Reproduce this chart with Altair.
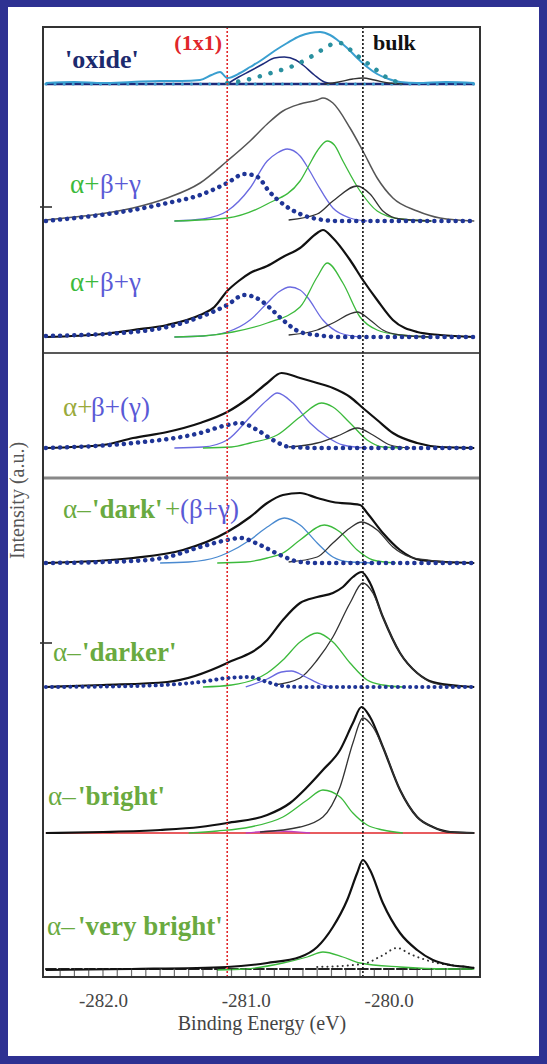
import altair as alt
import pandas as pd

# ---------------- data (energies in eV, heights in a.u. above each panel baseline) -------------
X_DOMAIN = [-282.42, -279.36]
Y_DOMAIN = [0, 950]
TICK_VALUES = [-282.0, -281.0, -280.0]
REF_LINES = [-281.13]          # (1x1)
BULK_LINES = [-280.18]         # bulk
OFFSETS = [893, 756, 640, 529, 414, 290, 144, 7]   # panel baselines
SEPARATORS_DARK = [624]
SEPARATORS_GRAY = [499]
LEFT_MARKS = [770, 334]
BOTTOM_TICKS = [-282.3, -282.2, -282.1, -282.0, -281.9, -281.8, -281.7, -281.6, -281.5, -281.4,
                -281.3, -281.2, -281.1, -281.0, -280.9, -280.8, -280.7, -280.6, -280.5, -280.4,
                -280.3, -280.2, -280.1, -280.0, -279.9, -279.8, -279.7, -279.6, -279.5]

FULL_BASE = [(-282.40, 0), (-279.40, 0)]

# panel 1 : 'oxide'
P1_ENV = [(-282.40, 1), (-282.20, 2), (-282.00, 1), (-281.80, 2), (-281.60, 3), (-281.45, 3),
          (-281.32, 4), (-281.24, 9), (-281.18, 12), (-281.13, 6), (-281.04, 11), (-280.97, 17),
          (-280.90, 23), (-280.80, 33), (-280.71, 41), (-280.62, 48), (-280.55, 51), (-280.48, 52),
          (-280.41, 49), (-280.35, 43), (-280.29, 36), (-280.22, 26), (-280.15, 17), (-280.08, 10),
          (-280.00, 5), (-279.92, 2), (-279.80, 1), (-279.60, 2), (-279.40, 1)]
P1_DOTS = [(-281.13, 1), (-281.03, 3), (-280.92, 7), (-280.80, 12), (-280.67, 18), (-280.57, 25),
           (-280.48, 33), (-280.41, 39), (-280.34, 41), (-280.25, 32), (-280.18, 24), (-280.11, 17),
           (-280.06, 11), (-279.98, 4), (-279.90, 1)]
P1_NAVY = [(-281.13, 0), (-281.05, 7), (-280.97, 13), (-280.88, 20), (-280.80, 26), (-280.73, 27),
           (-280.65, 24), (-280.60, 19), (-280.52, 9), (-280.45, 2), (-280.38, 0)]
P1_BLACK = [(-280.45, 0), (-280.35, 2), (-280.25, 5), (-280.18, 6), (-280.10, 4), (-280.00, 1),
            (-279.90, 0)]

# panel 2 : α+β+γ
P2_ENV = [(-282.40, 1), (-282.20, 4), (-282.02, 7), (-281.79, 13), (-281.55, 23), (-281.32, 38),
          (-281.13, 60), (-280.97, 80), (-280.85, 97), (-280.74, 110), (-280.62, 117), (-280.50, 121),
          (-280.46, 123), (-280.39, 118), (-280.27, 93), (-280.18, 70), (-280.08, 43), (-279.97, 23),
          (-279.80, 10), (-279.64, 3), (-279.40, 0)]
P2_BETA = [(-281.50, 0), (-281.30, 2), (-281.13, 10), (-280.97, 33), (-280.85, 60), (-280.78, 68),
           (-280.71, 72), (-280.62, 65), (-280.56, 52), (-280.50, 37), (-280.39, 13), (-280.27, 3),
           (-280.15, 0)]
P2_ALPHA = [(-281.50, 0), (-281.13, 3), (-280.85, 17), (-280.62, 40), (-280.56, 55), (-280.50, 70),
            (-280.43, 80), (-280.38, 76), (-280.32, 60), (-280.20, 30), (-280.08, 10), (-279.92, 2),
            (-279.70, 0)]
P2_GAMMA = [(-280.70, 1), (-280.50, 7), (-280.39, 20), (-280.22, 35), (-280.13, 27), (-280.04, 10),
            (-279.92, 2), (-279.70, 0)]
P2_DOTS = [(-282.40, 0), (-282.02, 6), (-281.79, 11), (-281.55, 18), (-281.32, 26), (-281.13, 38),
           (-281.01, 47), (-280.95, 46), (-280.90, 42), (-280.85, 32), (-280.74, 17), (-280.62, 7),
           (-280.50, 2), (-280.35, 0), (-279.40, 0)]

# panel 3 : α+β+γ
P3_ENV = [(-282.40, 0), (-282.00, 3), (-281.79, 7), (-281.55, 12), (-281.32, 22), (-281.22, 30),
          (-281.13, 46), (-281.05, 56), (-280.97, 64), (-280.85, 71), (-280.74, 80), (-280.62, 89),
          (-280.50, 104), (-280.46, 107), (-280.39, 99), (-280.27, 77), (-280.18, 57), (-280.08, 37),
          (-279.97, 17), (-279.80, 5), (-279.64, 2), (-279.40, 0)]
P3_BETA = [(-281.50, 0), (-281.30, 1), (-281.13, 5), (-280.97, 17), (-280.85, 34), (-280.77, 45),
           (-280.69, 50), (-280.62, 47), (-280.57, 40), (-280.46, 17), (-280.34, 4), (-280.20, 0)]
P3_ALPHA = [(-281.50, 0), (-281.30, 1), (-281.09, 5), (-280.85, 14), (-280.62, 30), (-280.50, 60),
            (-280.43, 74), (-280.32, 54), (-280.20, 20), (-280.08, 7), (-279.92, 2), (-279.70, 0)]
P3_GAMMA = [(-280.70, 2), (-280.50, 7), (-280.39, 14), (-280.22, 25), (-280.13, 17), (-280.04, 7),
            (-279.92, 2), (-279.70, 0)]
P3_DOTS = [(-282.40, 1), (-281.79, 5), (-281.55, 10), (-281.32, 20), (-281.13, 32), (-281.01, 42),
           (-280.90, 37), (-280.83, 29), (-280.74, 17), (-280.62, 5), (-280.50, 2), (-280.35, 0),
           (-279.40, 0)]

# panel 4 : α+β+(γ)
P4_ENV = [(-282.40, 0), (-282.00, 3), (-281.79, 10), (-281.55, 16), (-281.32, 25), (-281.13, 36),
          (-280.97, 51), (-280.85, 65), (-280.75, 75), (-280.62, 70), (-280.50, 65), (-280.39, 60),
          (-280.27, 51), (-280.18, 40), (-280.08, 28), (-279.97, 15), (-279.80, 5), (-279.64, 1),
          (-279.40, 0)]
P4_BETA = [(-281.50, 0), (-281.30, 1), (-281.13, 8), (-280.97, 31), (-280.85, 48), (-280.78, 55),
           (-280.67, 45), (-280.55, 25), (-280.43, 11), (-280.32, 3), (-280.15, 0)]
P4_ALPHA = [(-281.30, 0), (-281.10, 1), (-280.97, 5), (-280.78, 13), (-280.62, 31), (-280.47, 45),
            (-280.39, 41), (-280.27, 25), (-280.15, 8), (-280.04, 1), (-279.90, 0)]
P4_GAMMA = [(-280.70, 1), (-280.50, 5), (-280.34, 13), (-280.22, 20), (-280.11, 13), (-279.99, 3),
            (-279.85, 0)]
P4_DOTS = [(-282.40, 0), (-281.79, 5), (-281.32, 15), (-281.13, 23), (-281.04, 25), (-280.92, 18),
           (-280.81, 8), (-280.69, 1), (-280.50, 0), (-279.40, 0)]

# panel 5 : α-'dark'+(β+γ)
P5_ENV = [(-282.40, 0), (-281.79, 5), (-281.44, 13), (-281.13, 31), (-280.97, 46), (-280.85, 60),
          (-280.74, 68), (-280.62, 70), (-280.50, 65), (-280.39, 61), (-280.20, 58), (-280.15, 50),
          (-280.04, 30), (-279.92, 13), (-279.78, 3), (-279.60, 1), (-279.40, 0)]
P5_BETA = [(-281.60, 0), (-281.40, 1), (-281.20, 6), (-281.13, 10), (-280.97, 23), (-280.85, 36),
           (-280.73, 45), (-280.62, 38), (-280.50, 20), (-280.39, 6), (-280.27, 1), (-280.10, 0)]
P5_ALPHA = [(-281.20, 0), (-281.00, 1), (-280.85, 5), (-280.74, 10), (-280.62, 23), (-280.45, 38),
            (-280.34, 31), (-280.22, 13), (-280.11, 3), (-279.95, 0)]
P5_GAMMA = [(-280.70, 1), (-280.50, 6), (-280.39, 20), (-280.27, 35), (-280.19, 41), (-280.08, 33),
            (-279.97, 16), (-279.85, 6), (-279.73, 3), (-279.55, 0)]
P5_DOTS = [(-282.40, 0), (-281.79, 2), (-281.55, 6), (-281.32, 16), (-281.13, 23), (-281.04, 25),
           (-280.90, 18), (-280.76, 8), (-280.62, 1), (-280.50, 0), (-279.40, 0)]

# panel 6 : α-'darker'
P6_ENV = [(-282.40, 0), (-282.00, 2), (-281.55, 5), (-281.13, 24), (-280.85, 47), (-280.74, 67),
          (-280.62, 84), (-280.50, 90), (-280.39, 94), (-280.32, 100), (-280.25, 110), (-280.19, 115),
          (-280.13, 104), (-280.04, 70), (-279.92, 34), (-279.80, 14), (-279.69, 5), (-279.50, 1),
          (-279.40, 0)]
P6_BULK = [(-280.80, 2), (-280.62, 9), (-280.50, 27), (-280.39, 50), (-280.27, 84), (-280.18, 104),
           (-280.11, 94), (-280.04, 70), (-279.92, 34), (-279.80, 14), (-279.69, 4), (-279.50, 0)]
P6_ALPHA = [(-281.30, 0), (-281.10, 2), (-280.85, 14), (-280.74, 27), (-280.62, 45), (-280.50, 54),
            (-280.39, 45), (-280.27, 24), (-280.15, 7), (-280.04, 2), (-279.90, 0)]
P6_BETA = [(-281.00, 0), (-280.85, 8), (-280.75, 15), (-280.68, 16), (-280.58, 10), (-280.48, 3),
           (-280.40, 0)]
P6_DOTS = [(-282.40, 0), (-281.79, 1), (-281.32, 5), (-281.13, 9), (-280.97, 10), (-280.85, 5),
           (-280.74, 1), (-280.60, 0), (-279.40, 0)]

# panel 7 : α-'bright'
P7_ENV = [(-282.40, 0), (-282.00, 1), (-281.60, 3), (-281.32, 6), (-281.13, 10), (-280.85, 18),
          (-280.69, 30), (-280.57, 46), (-280.46, 63), (-280.34, 83), (-280.25, 110), (-280.19, 126),
          (-280.13, 116), (-280.04, 86), (-279.92, 43), (-279.80, 16), (-279.69, 6), (-279.57, 1),
          (-279.40, 0)]
P7_BULK = [(-280.90, 1), (-280.62, 6), (-280.46, 16), (-280.34, 46), (-280.25, 90), (-280.18, 115),
           (-280.11, 106), (-280.04, 86), (-279.92, 43), (-279.80, 16), (-279.69, 6), (-279.57, 1),
           (-279.40, 0)]
P7_ALPHA = [(-281.40, 0), (-281.20, 2), (-280.97, 6), (-280.74, 16), (-280.57, 33), (-280.46, 43),
            (-280.34, 36), (-280.25, 20), (-280.15, 8), (-280.04, 3), (-279.90, 0)]
P7_MAGENTA = [(-281.00, 0), (-280.78, 2), (-280.55, 0)]

# panel 8 : α-'very bright'
P8_ENV = [(-282.40, 0), (-281.80, 1), (-281.13, 3), (-280.85, 7), (-280.62, 13), (-280.50, 23),
          (-280.39, 43), (-280.29, 70), (-280.22, 97), (-280.18, 110), (-280.13, 100), (-280.04, 67),
          (-279.92, 37), (-279.80, 20), (-279.69, 10), (-279.57, 5), (-279.45, 3), (-279.40, 2)]
P8_ALPHA = [(-281.20, 0), (-281.00, 1), (-280.74, 7), (-280.57, 13), (-280.46, 18), (-280.32, 13),
            (-280.20, 7), (-279.92, 3), (-279.60, 1), (-279.40, 1)]
P8_DOT = [(-280.50, 3), (-280.18, 6), (-280.05, 14), (-279.94, 22), (-279.85, 16), (-279.69, 8),
          (-279.45, 3), (-279.40, 2)]
P8_BASE = [(-282.40, 1), (-279.40, 1)]

# ---------------- styling -------------
FONT = "Liberation Serif"
BORDER = "#2e3192"
NAVY = "#1c2a7a"
NAVY_DOT = "#1f3596"
CYAN = "#3a9fd0"
TEAL = "#2a909f"
BLUE = "#6a6ae0"
BLUE2 = "#4a8ad0"
GREEN = "#3cba3c"
DARK = "#333333"
BLACK = "#111111"
RED = "#e0262a"

XS = alt.Scale(domain=X_DOMAIN, nice=False, zero=False)
YS = alt.Scale(domain=Y_DOMAIN, nice=False, zero=False)
XAX = alt.Axis(values=TICK_VALUES, format=".1f",
               labelExpr="replace(datum.label, '\u2212', '-')",
               title="Binding Energy (eV)", domain=False, ticks=False, grid=False,
               labelFont=FONT, labelFontSize=19, labelColor="#444", labelPadding=14,
               labelFlush=False,
               titleFont=FONT, titleFontSize=20, titleFontWeight="normal", titleColor="#444",
               titleY=36, titleBaseline="top", zindex=1)
YAX = alt.Axis(title="Intensity (a.u.)", labels=False, ticks=False, domain=False, grid=False,
               titleFont=FONT, titleFontSize=20, titleFontWeight="normal", titleColor="#555",
               titleAngle=270, titleX=-26, titleY=473, titleBaseline="middle",
               titleAlign="center", zindex=1)

layers = []
one = pd.DataFrame({"k": [0]})

# white inner area (border is the blue background)
layers.append(alt.Chart(one).mark_rect(color="white").encode(
    x=alt.value(-35), x2=alt.value(496), y=alt.value(-20), y2=alt.value(1029)))


def curve(pts, panel, color, width=1.3, dash=None):
    df = pd.DataFrame(pts, columns=["x", "h"])
    df["y"] = df["h"] + OFFSETS[panel]
    props = dict(color=color, strokeWidth=width, interpolate="monotone")
    if dash is not None:
        props["strokeDash"] = dash
        props["strokeCap"] = "round"
    return alt.Chart(df).mark_line(**props).encode(
        x=alt.X("x:Q", scale=XS, axis=XAX),
        y=alt.Y("y:Q", scale=YS, axis=YAX))


DOTS = [0.1, 7]

# panel 1
layers += [curve(FULL_BASE, 0, NAVY, 2.6),
           curve(FULL_BASE, 0, CYAN, 3, [0.1, 9]),
           curve(P1_ENV, 0, CYAN, 2),
           curve(P1_NAVY, 0, NAVY, 1.5),
           curve(P1_BLACK, 0, DARK, 1.3),
           curve(P1_DOTS, 0, TEAL, 4.5, [0.1, 11])]
# panel 2
layers += [curve(P2_ENV, 1, "#555555", 1.5),
           curve(P2_BETA, 1, BLUE, 1.3),
           curve(P2_ALPHA, 1, GREEN, 1.3),
           curve(P2_GAMMA, 1, DARK, 1.3),
           curve(P2_DOTS, 1, NAVY_DOT, 4.5, DOTS)]
# panel 3
layers += [curve(P3_ENV, 2, BLACK, 2.2),
           curve(P3_BETA, 2, BLUE, 1.3),
           curve(P3_ALPHA, 2, GREEN, 1.3),
           curve(P3_GAMMA, 2, DARK, 1.3),
           curve(P3_DOTS, 2, NAVY_DOT, 4.5, DOTS)]
# panel 4
layers += [curve(P4_ENV, 3, BLACK, 2.2),
           curve(P4_BETA, 3, BLUE, 1.3),
           curve(P4_ALPHA, 3, GREEN, 1.3),
           curve(P4_GAMMA, 3, DARK, 1.3),
           curve(P4_DOTS, 3, NAVY_DOT, 4.5, DOTS)]
# panel 5
layers += [curve(P5_ENV, 4, BLACK, 2.2),
           curve(P5_BETA, 4, BLUE2, 1.3),
           curve(P5_ALPHA, 4, GREEN, 1.3),
           curve(P5_GAMMA, 4, DARK, 1.3),
           curve(P5_DOTS, 4, NAVY_DOT, 4.5, DOTS)]
# panel 6
layers += [curve(P6_ENV, 5, BLACK, 2.2),
           curve(P6_BULK, 5, DARK, 1.3),
           curve(P6_ALPHA, 5, GREEN, 1.3),
           curve(P6_BETA, 5, BLUE, 1.3),
           curve(P6_DOTS, 5, NAVY_DOT, 4, [0.1, 6])]
# panel 7
layers += [curve(FULL_BASE, 6, RED, 1.6),
           curve(P7_MAGENTA, 6, "#c040c0", 1.3),
           curve(P7_ENV, 6, BLACK, 2.2),
           curve(P7_BULK, 6, DARK, 1.3),
           curve(P7_ALPHA, 6, GREEN, 1.3)]
# panel 8
layers += [curve(P8_BASE, 7, "#222222", 2, [10, 3]),
           curve(P8_ALPHA, 7, GREEN, 1.3),
           curve(P8_DOT, 7, DARK, 2, [0.1, 5]),
           curve(P8_ENV, 7, BLACK, 2.2)]

# reference lines
layers.append(alt.Chart(pd.DataFrame({"x": REF_LINES})).mark_rule(
    color=RED, strokeWidth=1.6, strokeDash=[2, 2]).encode(x=alt.X("x:Q", scale=XS, axis=XAX)))
layers.append(alt.Chart(pd.DataFrame({"x": BULK_LINES})).mark_rule(
    color=BLACK, strokeWidth=1.6, strokeDash=[2, 2]).encode(x=alt.X("x:Q", scale=XS, axis=XAX)))
layers.append(alt.Chart(pd.DataFrame({"y": SEPARATORS_DARK})).mark_rule(
    color="#222222", strokeWidth=1.6).encode(y=alt.Y("y:Q", scale=YS, axis=YAX)))
layers.append(alt.Chart(pd.DataFrame({"y": SEPARATORS_GRAY})).mark_rule(
    color="#888888", strokeWidth=3).encode(y=alt.Y("y:Q", scale=YS, axis=YAX)))
layers.append(alt.Chart(pd.DataFrame({"y": LEFT_MARKS})).mark_rule(
    color="#222222", strokeWidth=1.5).encode(
        y=alt.Y("y:Q", scale=YS, axis=YAX), x=alt.value(-3), x2=alt.value(9)))
layers.append(alt.Chart(pd.DataFrame({"x": BOTTOM_TICKS})).mark_tick(
    color="#333333", orient="vertical", size=8, thickness=1.2).encode(
        x=alt.X("x:Q", scale=XS, axis=XAX), y=alt.value(945)))

# frame
layers.append(alt.Chart(one).mark_rect(filled=False, stroke="#333333", strokeWidth=2).encode(
    x=alt.value(0), x2=alt.value(437), y=alt.value(0), y2=alt.value(950)))

# text labels: (text, x, y, colour, weight, size, align)
GREEN_L = "#6aaa40"
OLIVE = "#9aaa3c"
LBL_BLUE = "#5a5ad6"
TEXTS = [
    ("'oxide'", 22, 33, "#1c2a6e", "bold", 26, "left"),
    ("(1x1)", 179, 16, RED, "bold", 22, "right"),
    ("bulk", 330, 16, BLACK, "bold", 22, "left"),
    ("\u03b1+", 27, 158, GREEN, "normal", 27, "left"),
    ("\u03b2+\u03b3", 57, 158, LBL_BLUE, "normal", 27, "left"),
    ("\u03b1+", 27, 256, GREEN, "normal", 27, "left"),
    ("\u03b2+\u03b3", 57, 256, LBL_BLUE, "normal", 27, "left"),
    ("\u03b1+", 20, 381, OLIVE, "normal", 27, "left"),
    ("\u03b2+(\u03b3)", 48, 381, LBL_BLUE, "normal", 27, "left"),
    ("\u03b1\u2013", 20, 483, GREEN_L, "normal", 27, "left"),
    ("'dark'", 49, 483, GREEN_L, "bold", 27, "left"),
    ("+", 122, 483, GREEN_L, "normal", 27, "left"),
    ("(\u03b2+\u03b3)", 137, 483, LBL_BLUE, "normal", 27, "left"),
    ("\u03b1\u2013", 10, 626, GREEN_L, "normal", 27, "left"),
    ("'darker'", 39, 626, GREEN_L, "bold", 27, "left"),
    ("\u03b1\u2013", 5, 770, GREEN_L, "normal", 27, "left"),
    ("'bright'", 35, 770, GREEN_L, "bold", 27, "left"),
    ("\u03b1\u2013", 4, 900, GREEN_L, "normal", 27, "left"),
    ("'very bright'", 35, 900, GREEN_L, "bold", 27, "left"),
]
for t, x, y, c, w, s, a in TEXTS:
    layers.append(alt.Chart(one).mark_text(
        text=t, color=c, font=FONT, fontWeight=w, fontSize=s, align=a, baseline="middle").encode(
        x=alt.value(x), y=alt.value(y)))

chart = alt.layer(*layers).properties(
    width=437, height=950,
    padding={"left": 43, "top": 27, "right": 67, "bottom": 87},
    autosize=alt.AutoSizeParams(type="none"),
    background=BORDER,
).configure_view(strokeWidth=0, fill=None)

chart.save("out.html", embed_options={"renderer": "svg", "actions": False})
